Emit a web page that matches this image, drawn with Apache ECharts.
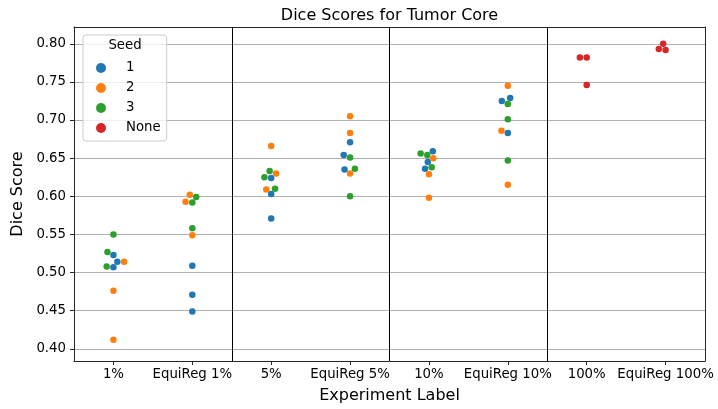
<!DOCTYPE html>
<html><head><meta charset="utf-8">
<script src="https://cdn.jsdelivr.net/npm/echarts@6/dist/echarts.min.js"></script>
<style>html,body{margin:0;padding:0;background:#fff}#c{width:718px;height:409px}</style>
</head><body><div id="c"></div>
<script>
// ---- data ----
const categories = ['1%', 'EquiReg 1%', '5%', 'EquiReg 5%', '10%', 'EquiReg 10%', '100%', 'EquiReg 100%'];
const seedNames = ['1', '2', '3', 'None'];
const seed1Scores = [[0.523, 0.514, 0.507], [0.509, 0.471, 0.449], [0.624, 0.603, 0.571], [0.671, 0.654, 0.635], [0.659, 0.645, 0.636], [0.729, 0.725, 0.683], [], []];
const seed2Scores = [[0.514, 0.476, 0.412], [0.602, 0.593, 0.549], [0.666, 0.630, 0.609], [0.705, 0.683, 0.630], [0.650, 0.629, 0.598], [0.745, 0.686, 0.615], [], []];
const seed3Scores = [[0.550, 0.527, 0.508], [0.599, 0.592, 0.558], [0.633, 0.625, 0.610], [0.651, 0.636, 0.600], [0.656, 0.654, 0.638], [0.721, 0.701, 0.647], [], []];
const seedNoneScores = [[], [], [], [], [], [], [0.782, 0.782, 0.746], [0.800, 0.793, 0.792]];
const yTicks = [0.40, 0.45, 0.50, 0.55, 0.60, 0.65, 0.70, 0.75, 0.80];

// ---- styling ----
const FONT = 'DejaVu Sans';
const colors = ['#1f77b4', '#ff7f0e', '#2ca02c', '#d62728'];
const seedScores = [seed1Scores, seed2Scores, seed3Scores, seedNoneScores];
const yMin = 0.384, yMax = 0.822;
const markerSize = 6.5;
const AX = '#262626';
// group dividers: between each (base, EquiReg) pair
const dividers = categories.map((c, i) => i).filter(i => i % 2 === 1 && i < categories.length - 1).map(i => i + 0.5);

const chart = echarts.init(document.getElementById('c'));

function buildOption(seriesData) {
  return {
    animation: false,
    color: colors,
    textStyle: { fontFamily: FONT },
    title: {
      text: 'Dice Scores for Tumor Core',
      left: 384.5, top: 3, textAlign: 'center',
      textStyle: { fontFamily: FONT, fontSize: 16, fontWeight: 'normal', color: '#000' }
    },
    graphic: [{
      type: 'text', x: 125, y: 46, z: 100,
      style: { text: 'Seed', align: 'center', verticalAlign: 'middle', fontFamily: FONT, fontSize: 13.3, fill: '#000' }
    }],
    legend: {
      data: seedNames, orient: 'vertical', left: 83, top: 35,
      padding: [25, 6, 5, 13], itemWidth: 10, itemHeight: 10, itemGap: 4, icon: 'circle',
      borderColor: '#cccccc', borderWidth: 1, borderRadius: 3, backgroundColor: 'rgba(255,255,255,0.8)',
      formatter: name => '{t|' + name + '}',
      textStyle: { fontFamily: FONT, fontSize: 13.3, color: '#000', lineHeight: 16,
        rich: { t: { fontFamily: FONT, fontSize: 13.3, color: '#000', lineHeight: 16, padding: [0, 0, 0, 15] } } }
    },
    grid: { left: 74, right: 13, top: 27, bottom: 47, containLabel: false },
    xAxis: [{
      type: 'category', data: categories, position: 'bottom', boundaryGap: true,
      name: 'Experiment Label', nameLocation: 'middle', nameGap: 27,
      nameTextStyle: { fontFamily: FONT, fontSize: 16, color: '#000' },
      axisLine: { show: true, lineStyle: { color: AX, width: 1 } },
      axisTick: { show: true, alignWithLabel: true, length: 4, lineStyle: { color: AX } },
      axisLabel: { fontFamily: FONT, fontSize: 13.3, color: '#000', margin: 7, interval: 0 },
      splitLine: { show: false }
    }, {
      type: 'value', position: 'top', min: -0.5, max: categories.length - 0.5,
      axisLine: { show: true, onZero: false, lineStyle: { color: AX, width: 1 } },
      axisTick: { show: false }, axisLabel: { show: false }, splitLine: { show: false }
    }],
    yAxis: [{
      type: 'value', min: yMin, max: yMax, splitNumber: 9,
      name: 'Dice Score', nameLocation: 'middle', nameGap: 38,
      nameTextStyle: { fontFamily: FONT, fontSize: 16, color: '#000' },
      axisLine: { show: true, onZero: false, lineStyle: { color: AX, width: 1 } },
      axisTick: { show: true, length: 4, customValues: yTicks, lineStyle: { color: AX } },
      axisLabel: { fontFamily: FONT, fontSize: 13.3, color: '#000', margin: 8, customValues: yTicks,
        formatter: v => v.toFixed(2) },
      splitLine: { show: true, lineStyle: { color: '#b0b0b0', width: 1 } }
    }, {
      type: 'value', position: 'right', min: yMin, max: yMax,
      axisLine: { show: true, onZero: false, lineStyle: { color: AX, width: 1 } },
      axisTick: { show: false }, axisLabel: { show: false }, splitLine: { show: false }
    }],
    series: seedNames.map((name, si) => ({
      name, type: 'scatter', xAxisIndex: 1, yAxisIndex: 0,
      symbol: 'circle', symbolSize: markerSize,
      itemStyle: { color: colors[si], opacity: 1 },
      emphasis: { disabled: true },
      data: seriesData[si],
      markLine: si === 0 ? {
        silent: true, symbol: ['none', 'none'], label: { show: false },
        lineStyle: { color: '#000', width: 1, type: 'solid' },
        data: dividers.map(x => ({ xAxis: x }))
      } : undefined
    }))
  };
}

chart.setOption(buildOption(seedNames.map(() => [])));

// beeswarm layout (seaborn-like), computed in pixel space via the chart's scales
const d = markerSize;
const pxPerCat = chart.convertToPixel({ xAxisIndex: 1 }, 1) - chart.convertToPixel({ xAxisIndex: 1 }, 0);
const seriesData = seedNames.map(() => []);
categories.forEach((cat, ci) => {
  const pts = [];
  seedScores.forEach((arr, si) => (arr[ci] || []).forEach(v => pts.push({ si, v, y: -chart.convertToPixel({ yAxisIndex: 0 }, v) })));
  pts.sort((a, b) => a.y - b.y);
  const swarm = [];
  pts.forEach((p, k) => {
    if (k === 0) { p.x = 0; swarm.push(p); return; }
    const neigh = [];
    for (let j = swarm.length - 1; j >= 0; j--) {
      if (p.y - swarm[j].y < d) neigh.push(swarm[j]); else break;
    }
    neigh.reverse();
    const cands = [0];
    let leftFirst = true;
    neigh.forEach(n => {
      const dy = p.y - n.y;
      const dx = Math.sqrt(Math.max(d * d - dy * dy, 0)) * 1.05;
      if (leftFirst) cands.push(n.x - dx, n.x + dx); else cands.push(n.x + dx, n.x - dx);
      leftFirst = !leftFirst;
    });
    const sorted = cands.map((c, i) => ({ c, i })).sort((a, b) => (Math.abs(a.c) - Math.abs(b.c)) || (a.i - b.i)).map(o => o.c);
    let chosen = sorted[sorted.length - 1];
    for (const c of sorted) {
      if (neigh.every(n => Math.hypot(n.x - c, n.y - p.y) >= d - 1e-9)) { chosen = c; break; }
    }
    p.x = chosen;
    swarm.push(p);
  });
  swarm.forEach(p => seriesData[p.si].push([ci + p.x / pxPerCat, p.v]));
});

chart.setOption(buildOption(seriesData));
</script>
</body></html>
